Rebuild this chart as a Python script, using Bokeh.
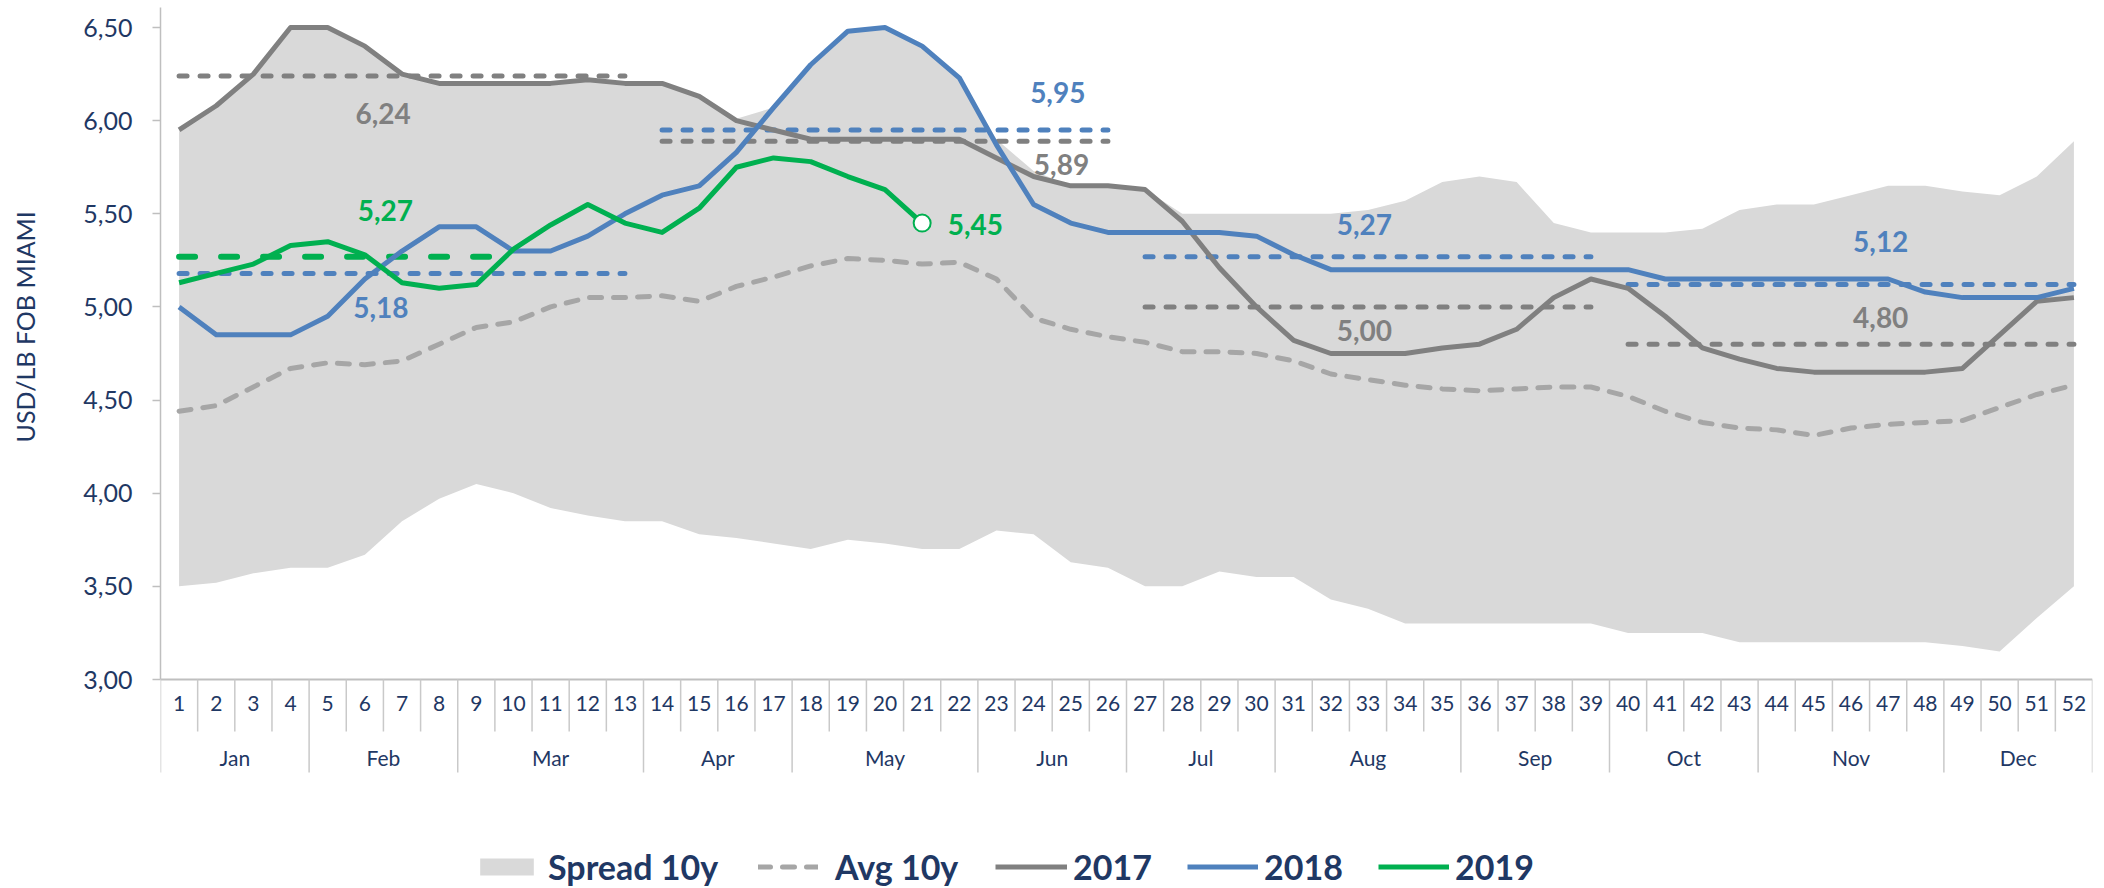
from bokeh.plotting import figure
from bokeh.models import (Range1d, Legend, LegendItem, Title, FixedTicker,
                          CustomJSTickFormatter)
from bokeh.core.properties import value
from bokeh.embed import file_html
from bokeh.resources import INLINE

# ---------------- data ----------------
weeks = list(range(1, 53))
months = ["Jan", "Feb", "Mar", "Apr", "May", "Jun",
          "Jul", "Aug", "Sep", "Oct", "Nov", "Dec"]
month_first_week = [1, 5, 9, 14, 18, 23, 27, 31, 36, 40, 44, 49]

spread_high = [5.95, 6.08, 6.25, 6.50, 6.50, 6.40, 6.25, 6.20, 6.20, 6.20, 6.20, 6.22, 6.20,
               6.20, 6.13, 6.01, 6.07, 6.30, 6.48, 6.50, 6.40, 6.23, 5.90, 5.73, 5.65, 5.65,
               5.63, 5.50, 5.50, 5.50, 5.50, 5.50, 5.52, 5.57, 5.67, 5.70, 5.67, 5.45, 5.40,
               5.40, 5.40, 5.42, 5.52, 5.55, 5.55, 5.60, 5.65, 5.65, 5.62, 5.60, 5.70, 5.89]
spread_low = [3.50, 3.52, 3.57, 3.60, 3.60, 3.67, 3.85, 3.97, 4.05, 4.00, 3.92, 3.88, 3.85,
              3.85, 3.78, 3.76, 3.73, 3.70, 3.75, 3.73, 3.70, 3.70, 3.80, 3.78, 3.63, 3.60,
              3.50, 3.50, 3.58, 3.55, 3.55, 3.43, 3.38, 3.30, 3.30, 3.30, 3.30, 3.30, 3.30,
              3.25, 3.25, 3.25, 3.20, 3.20, 3.20, 3.20, 3.20, 3.20, 3.18, 3.15, 3.33, 3.50]
avg_10y = [4.44, 4.47, 4.57, 4.67, 4.70, 4.69, 4.71, 4.80, 4.89, 4.92, 5.00, 5.05, 5.05,
           5.06, 5.03, 5.11, 5.16, 5.22, 5.26, 5.25, 5.23, 5.24, 5.15, 4.94, 4.88, 4.84,
           4.81, 4.76, 4.76, 4.75, 4.71, 4.64, 4.61, 4.58, 4.56, 4.55, 4.56, 4.57, 4.57,
           4.52, 4.44, 4.38, 4.35, 4.34, 4.31, 4.35, 4.37, 4.38, 4.39, 4.46, 4.53, 4.58]
y2017 = [5.95, 6.08, 6.25, 6.50, 6.50, 6.40, 6.25, 6.20, 6.20, 6.20, 6.20, 6.22, 6.20,
         6.20, 6.13, 6.00, 5.95, 5.90, 5.90, 5.90, 5.90, 5.90, 5.80, 5.70, 5.65, 5.65,
         5.63, 5.46, 5.21, 5.00, 4.82, 4.75, 4.75, 4.75, 4.78, 4.80, 4.88, 5.05, 5.15,
         5.10, 4.95, 4.78, 4.72, 4.67, 4.65, 4.65, 4.65, 4.65, 4.67, 4.85, 5.03, 5.05]
y2018 = [5.00, 4.85, 4.85, 4.85, 4.95, 5.15, 5.30, 5.43, 5.43, 5.30, 5.30, 5.38, 5.50,
         5.60, 5.65, 5.83, 6.07, 6.30, 6.48, 6.50, 6.40, 6.23, 5.87, 5.55, 5.45, 5.40,
         5.40, 5.40, 5.40, 5.38, 5.28, 5.20, 5.20, 5.20, 5.20, 5.20, 5.20, 5.20, 5.20,
         5.20, 5.15, 5.15, 5.15, 5.15, 5.15, 5.15, 5.15, 5.08, 5.05, 5.05, 5.05, 5.10]
weeks_2019 = list(range(1, 22))
y2019 = [5.13, 5.18, 5.23, 5.33, 5.35, 5.28, 5.13, 5.10, 5.12, 5.31, 5.44, 5.55, 5.45,
         5.40, 5.53, 5.75, 5.80, 5.78, 5.70, 5.63, 5.45]

# quarterly averages (dashed reference lines)
q_start = [1, 14, 27, 40]
q_end = [13, 26, 39, 52]
q_avg_2017 = [6.24, 5.89, 5.00, 4.80]
q_avg_2018 = [5.18, 5.95, 5.27, 5.12]
q_start_2019 = [1]
q_end_2019 = [10]
q_avg_2019 = [5.27]

y_ticks = [3.0, 3.5, 4.0, 4.5, 5.0, 5.5, 6.0, 6.5]

# ---------------- styles / layout ----------------
C2017 = "#808080"
C2018 = "#4F81BD"
C2019 = "#00B050"
CAVG = "#A6A6A6"
CSPREAD = "#D9D9D9"
NAVY = "#1F3864"
AXIS_GREY = "#BFBFBF"
SEP_GREY = "#C9C9C9"
FONT = "Lato"

W, H = 2104, 888
LEFT, RIGHT = 160, 12
PPU = 652 / 3.5                 # pixels per 1.00 USD
Y_HI = 6.5 + 27 / PPU
Y_LO = 3.0 - (H - 679) / PPU


def ydata(row):
    """y data value of a pixel row of the full-height frame"""
    return Y_LO + (H - row) / PPU


p = figure(width=W, height=H, x_range=Range1d(0.5, 52.5), y_range=Range1d(Y_LO, Y_HI),
           x_axis_type=None, output_backend="svg", toolbar_location=None,
           min_border_left=LEFT, min_border_right=RIGHT, min_border_top=0, min_border_bottom=0)
p.outline_line_color = None
p.ygrid.visible = False
p.background_fill_color = "white"

# y axis
ya = p.yaxis[0]
ya.bounds = (3.0, ydata(7))
ya.ticker = FixedTicker(ticks=y_ticks)
ya.formatter = CustomJSTickFormatter(code="return tick.toFixed(2).replace('.', ',');")
ya.major_tick_out = 8
ya.major_tick_in = 0
ya.minor_tick_out = 0
ya.minor_tick_in = 0
ya.axis_line_color = AXIS_GREY
ya.axis_line_width = 1.5
ya.major_tick_line_color = AXIS_GREY
ya.major_tick_line_width = 1.5
ya.major_label_standoff = 20
ya.major_label_text_font = FONT
ya.major_label_text_font_size = "25px"
ya.major_label_text_color = NAVY
ya.axis_label = " "
ya.axis_label_text_font_size = "1px"
ya.axis_label_standoff = 37

# y axis title: left-aligned title starts 'offset' px above the frame bottom
p.add_layout(Title(text="USD/LB FOB MIAMI", align="left", offset=446, standoff=0,
                   text_font=FONT, text_font_size="25px", text_font_style="normal",
                   text_color=NAVY), "left")

# category axis (weeks / months) drawn below the 3,00 line
y_axis0 = 3.0
y_short = ydata(731)
y_long = ydata(772)
y_week_lbl = ydata(703)
y_month_lbl = ydata(757)

bounds = [w - 0.5 for w in weeks] + [weeks[-1] + 0.5]
month_bounds = [w - 0.5 for w in month_first_week] + [weeks[-1] + 0.5]
short_b = [b for b in bounds if b not in month_bounds]
p.segment(x0=[0.5], x1=[52.5], y0=[y_axis0], y1=[y_axis0], line_color=AXIS_GREY, line_width=2)
p.segment(x0=short_b, x1=short_b, y0=[y_axis0] * len(short_b), y1=[y_short] * len(short_b),
          line_color=SEP_GREY, line_width=1.5)
p.segment(x0=month_bounds, x1=month_bounds, y0=[y_axis0] * len(month_bounds),
          y1=[y_long] * len(month_bounds), line_color=SEP_GREY, line_width=1.5)
p.text(x=weeks, y=[y_week_lbl] * len(weeks), text=[str(w) for w in weeks],
       text_align="center", text_baseline="middle", text_font=value(FONT),
       text_font_size="21px", text_color=NAVY)
month_centers = [(a + b) / 2 for a, b in zip(month_bounds[:-1], month_bounds[1:])]
p.text(x=month_centers, y=[y_month_lbl] * len(months), text=months,
       text_align="center", text_baseline="middle", text_font=value(FONT),
       text_font_size="21px", text_color=NAVY)

# series
r_spread = p.varea(x=weeks, y1=spread_low, y2=spread_high, fill_color=CSPREAD)
r_avg = p.line(weeks, avg_10y, line_color=CAVG, line_width=5, line_dash="12 12",
               line_cap="round", line_join="round")

qd = dict(line_width=5, line_dash="8 13", line_cap="round")
p.segment(x0=q_start, x1=q_end, y0=q_avg_2017, y1=q_avg_2017, line_color=C2017, **qd)
p.segment(x0=q_start, x1=q_end, y0=q_avg_2018, y1=q_avg_2018, line_color=C2018, **qd)
p.segment(x0=q_start_2019, x1=q_end_2019, y0=q_avg_2019, y1=q_avg_2019, line_color=C2019,
          line_width=6, line_dash="16 26", line_cap="round")

r17 = p.line(weeks, y2017, line_color=C2017, line_width=5, line_join="round")
r18 = p.line(weeks, y2018, line_color=C2018, line_width=5, line_join="round")
r19 = p.line(weeks_2019, y2019, line_color=C2019, line_width=5, line_join="round")
p.scatter(x=[weeks_2019[-1]], y=[y2019[-1]], size=17, fill_color="white",
          line_color=C2019, line_width=2)


def fmt(v):
    return f"{v:.2f}".replace(".", ",")


# value labels (positions are layout constants)
lbl_vals = [q_avg_2017[0], q_avg_2017[1], q_avg_2017[2], q_avg_2017[3],
            q_avg_2018[0], q_avg_2018[1], q_avg_2018[2], q_avg_2018[3],
            q_avg_2019[0], y2019[-1]]
lbl_x = [6.49, 24.75, 32.9, 46.8, 6.43, 24.65, 32.9, 46.8, 6.55, 21.69]
lbl_y = [6.041, 5.766, 4.871, 4.941, 4.996, 6.152, 5.444, 5.349, 5.518, 5.44]
lbl_col = [C2017] * 4 + [C2018] * 4 + [C2019] * 2
lbl_align = ["center"] * 9 + ["left"]
p.text(x=lbl_x, y=lbl_y, text=[fmt(v) for v in lbl_vals],
       text_color=lbl_col, text_align=lbl_align, text_baseline="middle",
       text_font=value(FONT), text_font_size="28px", text_font_style="bold")

# legend: one Legend per entry so each sits where the reference has it
entries = [("Spread 10y", r_spread, 313, 67, 8),
           ("Avg 10y", r_avg, 598, 60, 17),
           ("2017", r17, 835, 72, 6),
           ("2018", r18, 1027, 71, 6),
           ("2019", r19, 1218, 71, 6)]
for name, rend, lx, gw, st in entries:
    leg = Legend(items=[LegendItem(label=name, renderers=[rend])], location=(lx, 1),
                 orientation="horizontal", padding=0, margin=0, spacing=0,
                 border_line_color=None, background_fill_alpha=0,
                 glyph_width=gw, glyph_height=21, label_standoff=st,
                 label_text_font=FONT, label_text_font_size="34px",
                 label_text_font_style="bold", label_text_color=NAVY)
    p.add_layout(leg)

open("out.html", "w").write(file_html(p, INLINE))
